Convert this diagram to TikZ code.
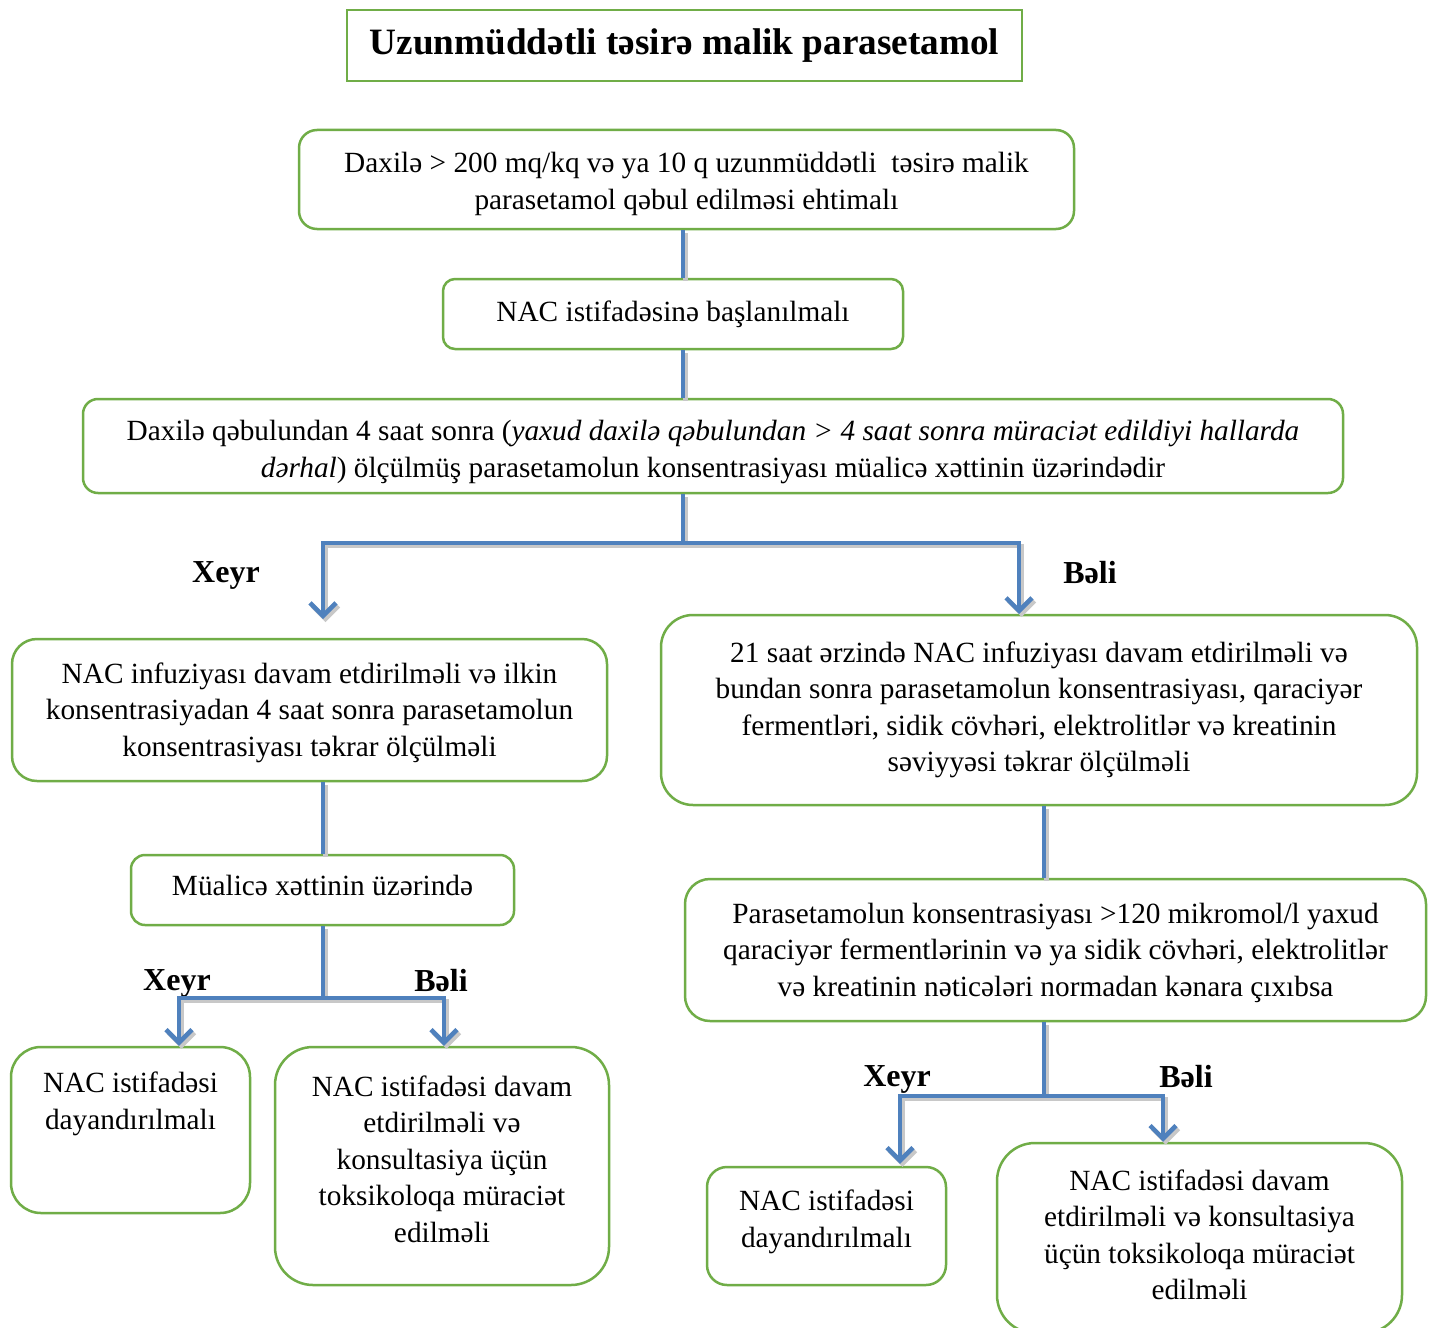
\documentclass[tikz,border=0pt]{standalone}
\usepackage{fontspec}
\setmainfont{Liberation Serif}
\usetikzlibrary{arrows.meta}
\definecolor{gbord}{HTML}{70AD47}
\definecolor{cblue}{HTML}{4F81BD}
\definecolor{cshad}{HTML}{C8C8C8}
\newcommand\bodyfont{\fontsize{29.3}{36.5}\selectfont}
\tikzset{
  box/.style={draw=gbord, line width=2.5pt, rounded corners=#1, align=center, inner sep=0pt, font=\bodyfont},
  box/.default=20pt,
  titlebox/.style={draw=gbord, line width=2.5pt, align=center, inner sep=0pt, font=\fontsize{37.2}{42}\selectfont\bfseries},
  lab/.style={font=\fontsize{32}{36}\selectfont\bfseries, inner sep=0pt},
  conn/.style={draw=cblue, line width=4.5pt,
    preaction={draw=cshad, line width=4.5pt, transform canvas={shift={(2.5pt,-3pt)}}}},
  arr/.style={conn, -{Straight Barb[length=13pt,width=26pt]}}
}
\begin{document}
\begin{tikzpicture}[x=1pt,y=-1pt]
\useasboundingbox (0,0) rectangle (1434,1327);
\clip (0,0) rectangle (1434,1327);
\fill[white] (0,0) rectangle (1434,1327);

\node[titlebox, minimum width=675pt, minimum height=71pt] (t) at (684.5,45.5) {\raisebox{-10pt}{Uzunmüddətli təsirə malik parasetamol}};

\node[box=18pt, minimum width=775pt, minimum height=99pt] (b1) at (686.5,179.5)
  {~\\[-7.5pt]Daxilə > 200 mq/kq və ya 10 q uzunmüddətli~ təsirə malik\\parasetamol qəbul edilməsi ehtimalı};
\node[box=12pt, minimum width=460pt, minimum height=70pt] (b2) at (673,314)
  {NAC istifadəsinə başlanılmalı};
\node[box=15pt, minimum width=1260pt, minimum height=94pt] (b3) at (713,446)
  {~\\[-4.5pt]Daxilə qəbulundan 4 saat sonra (\textit{yaxud daxilə qəbulundan > 4 saat sonra müraciət edildiyi hallarda}\\\textit{dərhal}) ölçülmüş parasetamolun konsentrasiyası müalicə xəttinin üzərindədir};

\node[box=25pt, minimum width=595pt, minimum height=142pt] (b4) at (309.5,710)
  {~\\[-10.5pt]NAC infuziyası davam etdirilməli və ilkin\\konsentrasiyadan 4 saat sonra parasetamolun\\konsentrasiyası təkrar ölçülməli};
\node[box=32pt, minimum width=756pt, minimum height=190pt] (b5) at (1039,710)
  {21 saat ərzində NAC infuziyası davam etdirilməli və\\bundan sonra parasetamolun konsentrasiyası, qaraciyər\\fermentləri, sidik cövhəri, elektrolitlər və kreatinin\\səviyyəsi təkrar ölçülməli};

\node[box=14pt, minimum width=383pt, minimum height=70pt] (b6) at (322.5,890)
  {Müalicə xəttinin üzərində\\[-27.5pt]~};
\node[box=30pt, minimum width=239pt, minimum height=166pt] (b7) at (130.5,1130)
  {NAC istifadəsi\\dayandırılmalı\\~\\[-14.5pt]~};
\node[box=38pt, minimum width=334pt, minimum height=238pt] (b8) at (442,1166)
  {NAC istifadəsi davam\\etdirilməli və\\konsultasiya üçün\\toksikoloqa müraciət\\edilməli\\[-22.5pt]~};

\node[box=25pt, minimum width=741pt, minimum height=142pt] (b9) at (1055.5,950)
  {~\\[-10.5pt]Parasetamolun konsentrasiyası >120 mikromol/l yaxud\\qaraciyər fermentlərinin və ya sidik cövhəri, elektrolitlər\\və kreatinin nəticələri normadan kənara çıxıbsa};
\node[box=20pt, minimum width=239pt, minimum height=118pt] (b10) at (826.5,1226)
  {NAC istifadəsi\\dayandırılmalı\\[-28.5pt]~\\[-30pt]~};
\node[box=38pt, minimum width=405pt, minimum height=190pt] (b11) at (1199.5,1238)
  {NAC istifadəsi davam\\etdirilməli və konsultasiya\\üçün toksikoloqa müraciət\\edilməli\\[-30pt]~};

\node[lab] (l1) at (226,575) {Xeyr};
\node[lab] (l2) at (1090,573) {Bəli};
\node[lab] (l3) at (177,983) {Xeyr};
\node[lab] (l4) at (441,981) {Bəli};
\node[lab] (l5) at (897,1079) {Xeyr};
\node[lab] (l6) at (1186,1077) {Bəli};

\coordinate (s1) at (683,0);
\coordinate (s2) at (323,0);
\coordinate (s3) at (1044,0);
\coordinate (j1) at (683,543);
\coordinate (j2) at (323,998);
\coordinate (j3) at (1044,1096);
\coordinate (e1) at (323,619);
\coordinate (e2) at (1019,614);
\coordinate (x3) at (179,0);
\coordinate (x4) at (444,0);
\coordinate (x5) at (900,0);
\coordinate (x6) at (1163,0);

\draw[conn] (b1.south -| s1) -- (b2.north -| s1);
\draw[conn] (b2.south -| s1) -- (b3.north -| s1);
\draw[conn] (b3.south -| s1) -- (j1);
\draw[arr] (j1) -| (e1);
\draw[arr] (j1) -| (e2);

\draw[conn] (b4.south -| s2) -- (b6.north -| s2);
\draw[conn] (b6.south -| s2) -- (j2);
\draw[arr] (j2) -| (b7.north -| x3);
\draw[arr] (j2) -| (b8.north -| x4);

\draw[conn] (b5.south -| s3) -- (b9.north -| s3);
\draw[conn] (b9.south -| s3) -- (j3);
\draw[arr] (j3) -| ([yshift=2pt]b10.north -| x5);
\draw[arr] (j3) -| (b11.north -| x6);
\end{tikzpicture}
\end{document}
